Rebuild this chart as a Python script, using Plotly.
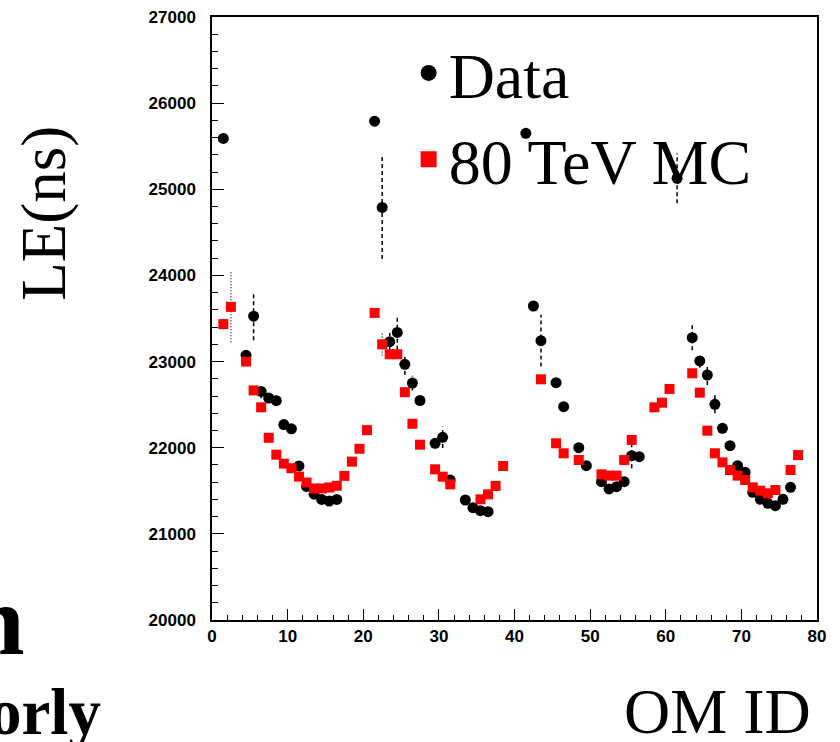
import plotly.graph_objects as go

# ---------------- data ----------------
om_data = [1.5, 4.5, 5.5, 6.5, 7.5, 8.5, 9.5, 10.5, 11.5, 12.5, 13.5, 14.5, 15.5, 16.5,
           21.5, 22.5, 23.5, 24.5, 25.5, 26.5, 27.5, 29.5, 30.5, 31.5, 33.5, 34.5, 35.5, 36.5,
           41.5, 42.5, 43.5, 45.5, 46.5, 48.5, 49.5, 51.5, 52.5, 53.5, 54.5, 55.5, 56.5,
           61.5, 63.5, 64.5, 65.5, 66.5, 67.5, 68.5, 69.5, 70.5, 71.5, 72.5, 73.5, 74.5, 75.5, 76.5]
le_data = [25590, 23073, 23527, 22654, 22577, 22546, 22269, 22219, 21788, 21550, 21460, 21400, 21380, 21400,
           25790, 24790, 23231, 23338, 22968, 22750, 22548, 22051, 22121, 21625, 21393, 21304, 21269, 21258,
           25650, 23645, 23243, 22755, 22476, 22000, 21791, 21606, 21521, 21548, 21606, 21907, 21896,
           25128, 23277, 23007, 22844, 22504, 22225, 22024, 21792, 21714, 21482, 21401, 21354, 21327, 21401, 21540]
err_data = [0, 30, 280, 80, 40, 60, 50, 50, 30, 20, 20, 20, 20, 20,
            0, 600, 100, 200, 120, 85, 30, 30, 125, 30, 20, 20, 20, 20,
            0, 30, 300, 50, 30, 30, 30, 20, 20, 20, 20, 145, 30,
            290, 145, 80, 115, 105, 40, 30, 30, 30, 20, 20, 20, 20, 20, 20]

om_mc = [1.5, 2.5, 4.5, 5.5, 6.5, 7.5, 8.5, 9.5, 10.5, 11.5, 12.5, 13.5, 14.5, 15.5, 16.5,
         17.5, 18.5, 19.5, 20.5, 21.5, 22.5, 23.5, 24.5, 25.5, 26.5, 27.5, 29.5, 30.5, 31.5,
         35.5, 36.5, 37.5, 38.5, 43.5, 45.5, 46.5, 48.5, 51.5, 52.5, 53.5, 54.5, 55.5,
         58.5, 59.5, 60.5, 63.5, 64.5, 65.5, 66.5, 67.5, 68.5, 69.5, 70.5, 71.5, 72.5, 73.5, 74.5, 76.5, 77.5]
le_mc = [23435, 23635, 23000, 22665, 22469, 22115, 21919, 21815, 21762, 21665, 21596, 21527, 21527, 21538, 21558,
         21673, 21838, 21988, 22204, 23565, 23200, 23085, 23085, 22645, 22278, 22035, 21749, 21664, 21575,
         21401, 21459, 21556, 21788, 22794, 22051, 21935, 21857, 21691, 21676, 21676, 21857, 22090,
         22469, 22523, 22682, 22864, 22639, 22198, 21935, 21830, 21741, 21676, 21625, 21540, 21501, 21471, 21509, 21741, 21915]
err_mc = [60, 410, 0, 0, 0, 0, 0, 0, 0, 0, 0, 0, 0, 0, 0,
          0, 0, 0, 0, 40, 130, 0, 0, 0, 0, 0, 0, 0, 0,
          0, 0, 0, 0, 0, 0, 0, 0, 0, 0, 0, 0, 0,
          0, 0, 0, 0, 0, 0, 0, 0, 0, 0, 0, 0, 0, 0, 0, 0, 0]

x_range = [0, 80]
y_range = [20000, 27000]


def err_segments(xs, ys, es):
    ex, ey = [], []
    for x, y, e in zip(xs, ys, es):
        if e > 0:
            ex += [x, x, None]
            ey += [y - e, y + e, None]
    return ex, ey


fig = go.Figure()

dx, dy = err_segments(om_data, le_data, err_data)
fig.add_trace(go.Scatter(x=dx, y=dy, mode="lines", showlegend=False, hoverinfo="skip",
                         line=dict(color="black", width=1.5, dash="4px,3px")))
mx, my = err_segments(om_mc, le_mc, err_mc)
fig.add_trace(go.Scatter(x=mx, y=my, mode="lines", showlegend=False, hoverinfo="skip",
                         line=dict(color="black", width=1.2, dash="1px,2px")))

fig.add_trace(go.Scatter(x=om_data, y=le_data, mode="markers", name="Data", showlegend=False,
                         marker=dict(symbol="circle", size=11, color="black")))
fig.add_trace(go.Scatter(x=om_mc, y=le_mc, mode="markers", name="80 TeV MC", showlegend=False,
                         marker=dict(symbol="square", size=10, color="#ff0000")))
# legend entries (larger symbols, as in the reference legend)
fig.add_trace(go.Scatter(x=[None], y=[None], mode="markers", name="Data",
                         marker=dict(symbol="circle", size=16, color="black")))
fig.add_trace(go.Scatter(x=[None], y=[None], mode="markers", name="80 TeV MC",
                         marker=dict(symbol="square", size=16, color="#ff0000")))

serif = "Liberation Serif"
sans = "Liberation Sans"
tickfont = dict(family=sans, size=17, color="black", weight="bold")

fig.update_xaxes(range=x_range, dtick=10, tick0=0, ticks="inside", ticklen=11, tickwidth=1,
                 tickcolor="black", minor=dict(dtick=2, ticks="inside", ticklen=5, tickcolor="black"),
                 showline=True, linewidth=1.5, linecolor="black", mirror=True, automargin=False,
                 showgrid=False, zeroline=False, tickfont=tickfont, ticklabelstandoff=0)
fig.update_yaxes(range=y_range, dtick=1000, tick0=20000, ticks="inside", ticklen=12, tickwidth=1,
                 tickcolor="black", minor=dict(dtick=200, ticks="inside", ticklen=6, tickcolor="black"),
                 showline=True, linewidth=1.5, linecolor="black", mirror=True, automargin=False,
                 showgrid=False, zeroline=False, tickfont=tickfont, tickformat="d",
                 ticklabelstandoff=11)

fig.update_layout(
    width=840, height=742,
    margin=dict(l=212, r=23, t=17, b=122),
    paper_bgcolor="white", plot_bgcolor="white",
    showlegend=True,
    legend=dict(x=0.325, y=0.987, xanchor="left", yanchor="top",
                font=dict(family=serif, size=64, color="black"),
                bgcolor="rgba(0,0,0,0)", borderwidth=0, tracegroupgap=0),
    annotations=[
        dict(text="LE(ns)", xref="paper", yref="paper", x=-0.279, y=0.674, showarrow=False,
             textangle=-90, font=dict(family=serif, size=63, color="black"),
             xanchor="center", yanchor="middle"),
        dict(text="OM ID", xref="paper", yref="paper", x=0.836, y=-0.152, showarrow=False,
             font=dict(family=serif, size=64, color="black"), xanchor="center", yanchor="middle"),
        dict(text="<b>n</b>", xref="paper", yref="paper", x=-0.306, y=0.0, showarrow=False,
             font=dict(family=serif, size=100, color="black"), xanchor="right", yanchor="middle"),
        dict(text="<b>orly</b>", xref="paper", yref="paper", x=-0.18, y=-0.1526, showarrow=False,
             font=dict(family=serif, size=65, color="black"), xanchor="right", yanchor="middle"),
    ],
)

fig.write_html("out.html", config={"displayModeBar": False},
               post_script="document.body.style.margin='0';")
